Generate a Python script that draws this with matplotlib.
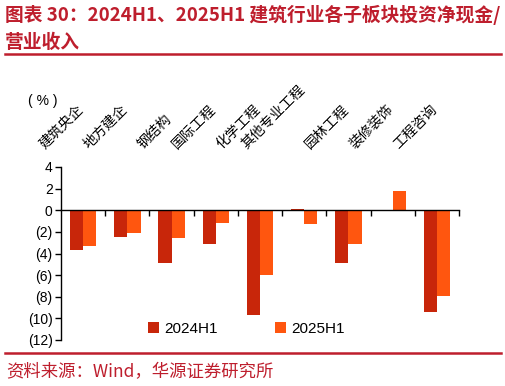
import matplotlib
matplotlib.use("Agg")
import matplotlib.pyplot as plt
import matplotlib.transforms as mtransforms
import numpy as np

plt.rcParams['font.family'] = ['Liberation Sans', 'Noto Sans CJK SC', 'DejaVu Sans']

categories = ['建筑央企', '地方建企', '钢结构', '国际工程', '化学工程',
              '其他专业工程', '园林工程', '装修装饰', '工程咨询']
series_names = ['2024H1', '2025H1']
v2024 = [-3.7, -2.5, -4.9, -3.1, -9.7, 0.1, -4.9, -0.1, -9.4]
v2025 = [-3.3, -2.1, -2.6, -1.2, -6.0, -1.3, -3.1, 1.8, -7.9]
yticks = [4, 2, 0, -2, -4, -6, -8, -10, -12]
yticklabels = ['4', '2', '0', '(2)', '(4)', '(6)', '(8)', '(10)', '(12)']

title_line1 = '图表 30：2024H1、2025H1 建筑行业各子板块投资净现金/'
title_line2 = '营业收入'
source = '资料来源：Wind，华源证券研究所'

c2024 = '#C8260A'
c2025 = '#FF560F'
red = '#BE1E2D'

W, H = 506, 386
fig = plt.figure(figsize=(W / 100, H / 100), dpi=100)
ax = fig.add_axes([61 / W, 1 - 340 / H, (459 - 61) / W, (340 - 167) / H])

x = np.arange(len(categories))
bw = 0.3
ax.bar(x - bw / 2, v2024, width=bw, color=c2024, label=series_names[0], zorder=2)
ax.bar(x + bw / 2, v2025, width=bw, color=c2025, label=series_names[1], zorder=2)

ax.set_xlim(-0.5, len(categories) - 0.5)
ax.set_ylim(-12, 4)
ax.set_yticks(yticks)
ax.set_yticklabels(yticklabels, fontsize=10)
ax.set_xticks(np.arange(len(categories)) + 0.5)
ax.set_xticklabels([])
ax.spines['top'].set_visible(False)
ax.spines['right'].set_visible(False)
ax.spines['bottom'].set_position(('data', 0))
ax.spines['bottom'].set_zorder(3)
for s in ['left', 'bottom']:
    ax.spines[s].set_linewidth(1.0)
ax.tick_params(axis='y', direction='out', length=4, width=1, pad=2)
ax.tick_params(axis='x', direction='out', length=4, width=1)

# rotated category labels above the plot
trans = mtransforms.blended_transform_factory(ax.transData, fig.transFigure)
for i, lab in enumerate(categories):
    ax.text(i + 0.07, 1 - 151 / H, lab, transform=trans, rotation=45,
            ha='right', va='bottom', fontsize=10,
            family=['Noto Sans CJK SC', 'DejaVu Sans'], color='#000000')

fig.text(28 / W, 1 - 101 / H, '( % )', fontsize=10, ha='left', va='center')

leg = ax.legend(loc='center', bbox_to_anchor=(0.466, 0.064), ncol=2, frameon=False,
                fontsize=11, handlelength=0.7, handleheight=0.7,
                handletextpad=0.35, columnspacing=3.8)

# title
fig.text(5 / W, 1 - 15 / H, title_line1, fontsize=13.5, fontweight='bold', color=red,
         ha='left', va='center', family=['Noto Sans CJK SC', 'DejaVu Sans'])
fig.text(5 / W, 1 - 42 / H, title_line2, fontsize=13.5, fontweight='bold', color=red,
         ha='left', va='center', family=['Noto Sans CJK SC', 'DejaVu Sans'])

# red rules
fig.add_artist(plt.Line2D([5 / W, 501 / W], [1 - 54 / H, 1 - 54 / H], color=red, lw=1.8))
fig.add_artist(plt.Line2D([5 / W, 501 / W], [1 - 353 / H, 1 - 353 / H], color=red, lw=1.8))

fig.text(6 / W, 1 - 372 / H, source, fontsize=12.5, color=red, ha='left', va='center',
         family=['Noto Sans CJK SC', 'DejaVu Sans'])

fig.savefig('out.png', dpi=100)
